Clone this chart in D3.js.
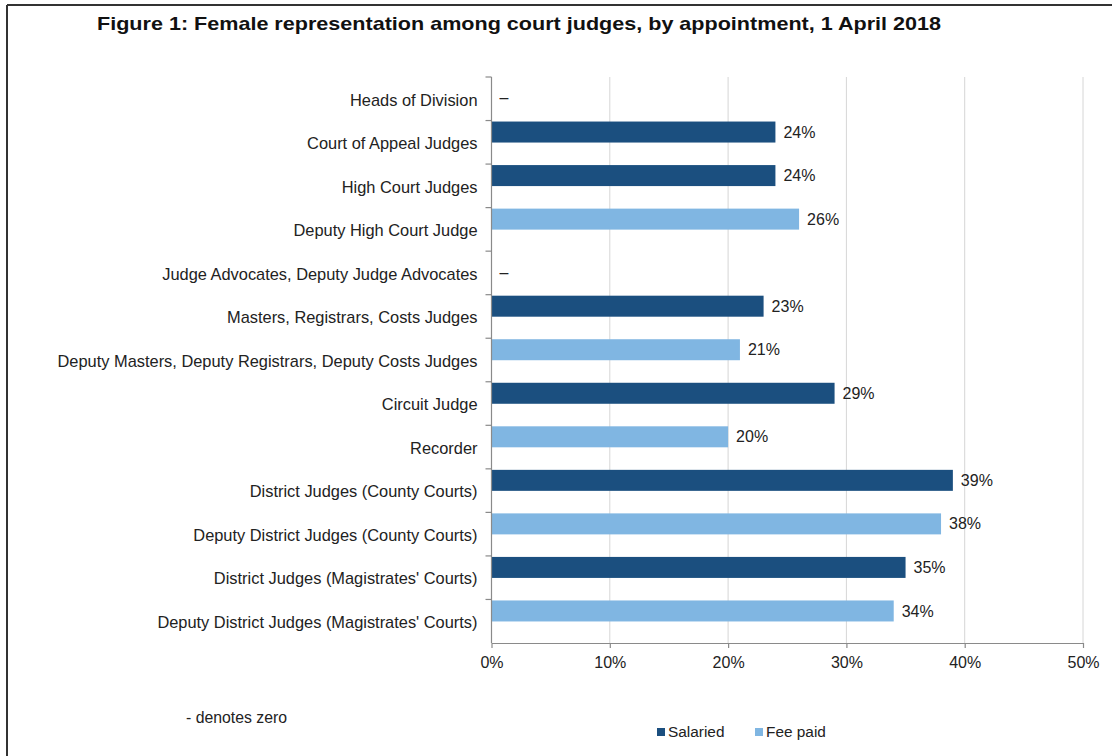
<!DOCTYPE html>
<html>
<head>
<meta charset="utf-8">
<script src="https://cdn.jsdelivr.net/npm/d3@7"></script>
<style>
  html, body { margin: 0; padding: 0; background: #fff; }
  svg { display: block; font-family: "Liberation Sans", Arial, sans-serif; }
</style>
</head>
<body>
<svg id="chart" width="1112" height="756"></svg>
<script>
// Appointment categories, top to bottom
const categories = [
  "Heads of Division",
  "Court of Appeal Judges",
  "High Court Judges",
  "Deputy High Court Judge",
  "Judge Advocates, Deputy Judge Advocates",
  "Masters, Registrars, Costs Judges",
  "Deputy Masters, Deputy Registrars, Deputy Costs Judges",
  "Circuit Judge",
  "Recorder",
  "District Judges (County Courts)",
  "Deputy District Judges (County Courts)",
  "District Judges (Magistrates' Courts)",
  "Deputy District Judges (Magistrates' Courts)"
];
// Percentage of female judges per appointment
const femaleShare = [0, 24, 24, 26, 0, 23, 21, 29, 20, 39, 38, 35, 34];
// Appointment type: salaried or fee paid
const appointmentType = [
  "Salaried", "Salaried", "Salaried", "Fee paid", "Salaried", "Salaried",
  "Fee paid", "Salaried", "Fee paid", "Salaried", "Fee paid", "Salaried", "Fee paid"
];
const xTicks = [0, 10, 20, 30, 40, 50];
const legendKeys = ["Salaried", "Fee paid"];

const colour = d3.scaleOrdinal().domain(legendKeys).range(["#1b4f7f", "#80b6e2"]);

const rows = categories.map((c, i) => ({ cat: c, value: femaleShare[i], type: appointmentType[i] }));

const svg = d3.select("#chart");

// Frame lines along top and left
svg.append("line").attr("x1", 7).attr("x2", 1112).attr("y1", 5).attr("y2", 5)
  .attr("stroke", "#333").attr("stroke-width", 2);
svg.append("line").attr("x1", 7).attr("x2", 7).attr("y1", 5).attr("y2", 756)
  .attr("stroke", "#333").attr("stroke-width", 2);

// Title
svg.append("text")
  .attr("x", 97).attr("y", 30)
  .attr("font-size", 19).attr("font-weight", "bold").attr("fill", "#111")
  .attr("textLength", 844).attr("lengthAdjust", "spacingAndGlyphs")
  .text("Figure 1: Female representation among court judges, by appointment, 1 April 2018");

const plotLeft = 491.5, plotRight = 1083, plotTop = 77, plotBottom = 643;

const x = d3.scaleLinear().domain([0, 50]).range([plotLeft, plotRight]);
const y = d3.scaleBand().domain(categories).range([plotTop, plotBottom]).paddingInner(0).paddingOuter(0);

// Vertical gridlines
svg.append("g").selectAll("line")
  .data(xTicks.filter(t => t > 0))
  .join("line")
  .attr("x1", d => x(d)).attr("x2", d => x(d))
  .attr("y1", plotTop).attr("y2", plotBottom)
  .attr("stroke", "#d6d6d6").attr("stroke-width", 1);

// Bars sit in the upper half of each band
const barH = 21;
svg.append("g").selectAll("rect")
  .data(rows.filter(d => d.value > 0))
  .join("rect")
  .attr("x", x(0))
  .attr("y", d => y(d.cat) + 1)
  .attr("width", d => x(d.value) - x(0))
  .attr("height", barH)
  .attr("fill", d => colour(d.type));

// Value labels
svg.append("g").selectAll("text")
  .data(rows)
  .join("text")
  .attr("x", d => x(d.value) + 8)
  .attr("y", d => d.value > 0 ? y(d.cat) + 1 + barH / 2 : y(d.cat) + y.bandwidth() / 2 - 1)
  .attr("dy", "0.35em")
  .attr("font-size", 16).attr("fill", "#222")
  .text(d => d.value > 0 ? d.value + "%" : "–");

// Category axis (left)
const yAxis = svg.append("g").attr("transform", `translate(${plotLeft},0)`);
yAxis.append("line").attr("x1", 0).attr("x2", 0).attr("y1", plotTop).attr("y2", plotBottom)
  .attr("stroke", "#8a8a8a").attr("stroke-width", 1.2);
yAxis.selectAll("line.tick")
  .data(categories)
  .join("line").attr("class", "tick")
  .attr("x1", -6).attr("x2", 0)
  .attr("y1", d => y(d)).attr("y2", d => y(d))
  .attr("stroke", "#8a8a8a").attr("stroke-width", 1.2);
yAxis.selectAll("text")
  .data(categories)
  .join("text")
  .attr("x", -14)
  .attr("y", d => y(d) + y.bandwidth() / 2 + 1)
  .attr("dy", "0.35em")
  .attr("text-anchor", "end")
  .attr("font-size", 16.4).attr("fill", "#222")
  .text(d => d);

// Percentage axis (bottom)
const xAxis = svg.append("g").attr("transform", `translate(0,${plotBottom})`)
  .call(d3.axisBottom(x).tickValues(xTicks).tickFormat(d => d + "%").tickSize(5).tickSizeOuter(0));
xAxis.select(".domain").attr("stroke", "#8a8a8a").attr("stroke-width", 1.2);
xAxis.selectAll(".tick line").attr("stroke", "#8a8a8a").attr("stroke-width", 1.2);
xAxis.selectAll(".tick text")
  .attr("font-family", "Liberation Sans, Arial, sans-serif")
  .attr("font-size", 16).attr("fill", "#222").attr("dy", "1.08em");

// Footnote
svg.append("text").attr("x", 186).attr("y", 723)
  .attr("font-size", 15.8).attr("fill", "#222").text("- denotes zero");

// Legend
const legend = svg.append("g").selectAll("g")
  .data(legendKeys)
  .join("g")
  .attr("transform", (d, i) => `translate(${[657, 755][i]},732)`);
legend.append("rect").attr("x", 0).attr("y", -4).attr("width", 8).attr("height", 8)
  .attr("fill", d => colour(d));
legend.append("text").attr("x", 11).attr("y", 0).attr("dy", "0.35em")
  .attr("font-size", 15.4).attr("fill", "#222").text(d => d);
</script>
</body>
</html>
